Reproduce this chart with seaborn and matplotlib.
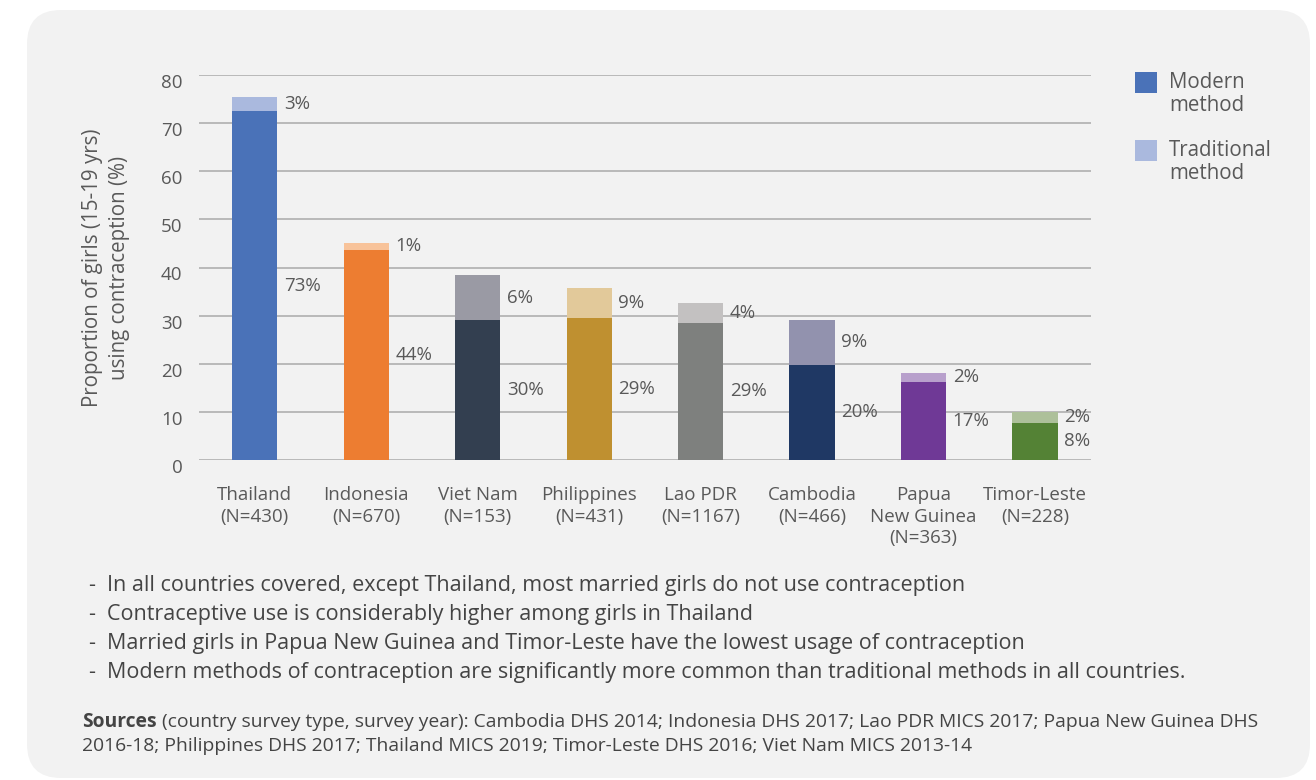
import matplotlib
matplotlib.use("Agg")
import matplotlib.pyplot as plt
from matplotlib.patches import FancyBboxPatch, Rectangle
from matplotlib.transforms import IdentityTransform, ScaledTranslation
import seaborn as sns
import pandas as pd

# ---------------- data ----------------
countries = ["Thailand\n(N=430)", "Indonesia\n(N=670)", "Viet Nam\n(N=153)",
             "Philippines\n(N=431)", "Lao PDR\n(N=1167)", "Cambodia\n(N=466)",
             "Papua\nNew Guinea\n(N=363)", "Timor-Leste\n(N=228)"]
modern = [72.5, 43.7, 29.0, 29.6, 28.5, 19.8, 16.2, 7.7]
traditional = [3.0, 1.4, 9.4, 6.2, 4.1, 9.3, 1.9, 2.3]
modern_labels = ["73%", "44%", "30%", "29%", "29%", "20%", "17%", "8%"]
trad_labels = ["3%", "1%", "6%", "9%", "4%", "9%", "2%", "2%"]
modern_colors = ["#4a72b8", "#ed7d31", "#333f50", "#bf9030",
                 "#7e807e", "#1f3864", "#6f3996", "#548235"]
trad_colors = ["#aab9de", "#f8c39a", "#9a9aa4", "#e2c99a",
               "#c3c1c1", "#9292ae", "#b8a0cc", "#adc09a"]
yticks = [0, 10, 20, 30, 40, 50, 60, 70, 80]
legend_labels = ["Modern\nmethod", "Traditional\nmethod"]
ylabel = "Proportion of girls (15-19 yrs)\nusing contraception (%)"
bullets = [
    "In all countries covered, except Thailand, most married girls do not use contraception",
    "Contraceptive use is considerably higher among girls in Thailand",
    "Married girls in Papua New Guinea and Timor-Leste have the lowest usage of contraception",
    "Modern methods of contraception are significantly more common than traditional methods in all countries.",
]
sources_bold = "Sources"
sources_line1 = (" (country survey type, survey year): Cambodia DHS 2014; Indonesia DHS 2017; "
                 "Lao PDR MICS 2017; Papua New Guinea DHS")
sources_line2 = ("2016-18; Philippines DHS 2017; Thailand MICS 2019; Timor-Leste DHS 2016; "
                 "Viet Nam MICS 2013-14")

df = pd.DataFrame({
    "country": countries,
    "modern": modern,
    "traditional": traditional,
})
df["total"] = df["modern"] + df["traditional"]

# ---------------- style ----------------
sns.set_style("white")
plt.rcParams["font.family"] = ["Open Sans", "DejaVu Sans"]
TXT = "#595959"
FS = 13.5

W, H = 1316, 780
fig = plt.figure(figsize=(W / 100, H / 100), dpi=100)
fig.patch.set_facecolor("white")

def fx(x):
    return x / W

def fy(y):
    return 1 - y / H

# background panel (pixel coords)
panel = FancyBboxPatch((27, 2), 1283, 768, boxstyle="round,pad=0,rounding_size=34",
                       transform=IdentityTransform(), facecolor="#f2f2f2",
                       edgecolor="none", zorder=-10)
fig.add_artist(panel)

ax = fig.add_axes([fx(199), fy(460), (1090.7 - 199) / W, (460 - 75) / H])
ax.set_facecolor("none")

bw = 0.405
sns.barplot(data=df, x="country", y="total", hue="country",
            palette=dict(zip(countries, trad_colors)), width=bw,
            saturation=1, linewidth=0, legend=False, ax=ax, zorder=2)
sns.barplot(data=df, x="country", y="modern", hue="country",
            palette=dict(zip(countries, modern_colors)), width=bw,
            saturation=1, linewidth=0, legend=False, ax=ax, zorder=3)

ax.set_xlim(-0.5, len(countries) - 0.5)
ax.set_ylim(0, 80)
ax.set_yticks(yticks)
ax.yaxis.grid(True, color="#b9b9b9", linewidth=1.4)
ax.xaxis.grid(False)
ax.set_axisbelow(True)
for s in ax.spines.values():
    s.set_visible(False)
ax.tick_params(axis="both", length=0, labelsize=FS, labelcolor=TXT)
ax.tick_params(axis="y", pad=12)
ax.tick_params(axis="x", pad=19)
for lab in ax.get_xticklabels():
    lab.set_linespacing(1.25)
ax.set_xlabel("")
ax.set_ylabel(ylabel, fontsize=14.8, color=TXT, linespacing=1.35)
ax.yaxis.set_label_coords((130 - 199) / 891.7, 0.5)

off = ScaledTranslation(0, -6 / 100, fig.dpi_scale_trans)
for lab in ax.get_yticklabels():
    lab.set_transform(lab.get_transform() + off)

# value labels
for i, (m, t) in enumerate(zip(modern, traditional)):
    xl = i + bw / 2 + 0.06
    ax.text(xl, m / 2, modern_labels[i], ha="left", va="center",
            fontsize=FS, color=TXT, zorder=5)
    ax.text(xl, m + t / 2, trad_labels[i], ha="left", va="center",
            fontsize=FS, color=TXT, zorder=5)

# legend (manual, pixel positions)
for k, (lab, col) in enumerate(zip(legend_labels, [modern_colors[0], trad_colors[0]])):
    top = 72 + k * 68
    fig.add_artist(Rectangle((1135, H - top - 21), 22, 21, transform=IdentityTransform(),
                             facecolor=col, edgecolor="none"))
    fig.text(fx(1169), fy(top), lab, ha="left", va="top", fontsize=14.8,
             color=TXT, linespacing=1.12)

# bullets
for k, b in enumerate(bullets):
    yy = 586 + k * 28.7
    fig.text(fx(88), fy(yy), "-", ha="left", va="center", fontsize=15.5, color="#444444")
    fig.text(fx(107), fy(yy), b, ha="left", va="center", fontsize=15.5, color="#444444")

# sources
SFS = 13.9
t1 = fig.text(fx(82), fy(722), sources_bold, ha="left", va="center", fontsize=SFS,
              fontweight="bold", color="#444444")
fig.canvas.draw()
bb = t1.get_window_extent(renderer=fig.canvas.get_renderer())
fig.text(bb.x1 / W, fy(722), sources_line1, ha="left", va="center", fontsize=SFS,
         color="#444444")
fig.text(fx(82), fy(746), sources_line2, ha="left", va="center", fontsize=SFS,
         color="#444444")

fig.savefig("out.png", dpi=100, facecolor="white")
